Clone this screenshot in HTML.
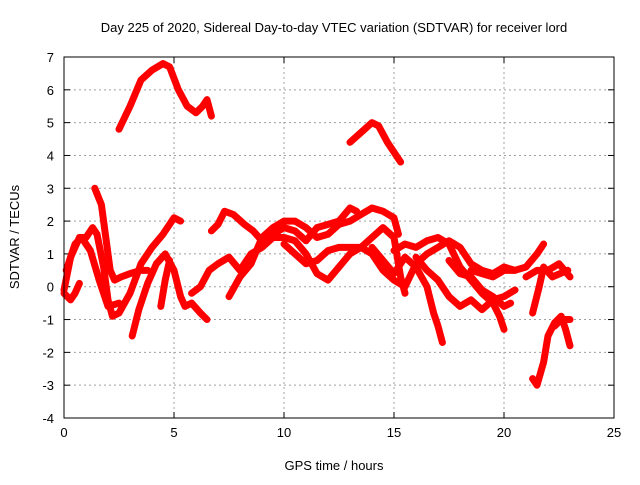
<!DOCTYPE html>
<html><head><meta charset="utf-8"><style>
body{margin:0;background:#fff}
svg text{font-family:"Liberation Sans",sans-serif;font-size:13px;fill:#000}
</style></head><body>
<svg id="chart" width="640" height="480" xmlns="http://www.w3.org/2000/svg">
<rect width="640" height="480" fill="#fff"/>
<text x="334" y="32" text-anchor="middle">Day 225 of 2020, Sidereal Day-to-day VTEC variation (SDTVAR) for receiver lord</text>
<text x="334" y="470" text-anchor="middle">GPS time / hours</text>
<text transform="translate(19,237) rotate(-90)" text-anchor="middle">SDTVAR / TECUs</text>
<g id="grid"></g>
<g id="ticks"></g>
<g id="series"></g>
<rect x="64" y="57" width="550" height="361" fill="none" stroke="#000" stroke-width="1"/>
</svg>
<script>
const xTicks=[0,5,10,15,20,25];
const yTicks=[-4,-3,-2,-1,0,1,2,3,4,5,6,7];
const tracks=[
[[2.5,4.8],[3,5.5],[3.5,6.3],[4,6.6],[4.5,6.8],[4.8,6.7],[5.2,6.0],[5.6,5.5],[6,5.3],[6.3,5.5],[6.5,5.7],[6.7,5.2]],
[[13,4.4],[13.5,4.7],[14,5.0],[14.3,4.9],[14.7,4.4],[15,4.1],[15.3,3.8]],
[[0,-0.1],[0.3,0.9],[0.7,1.5],[1,1.5],[1.3,1.8],[1.5,1.6],[1.8,0.6],[2,-0.4],[2.2,-0.9],[2.5,-0.8],[3,-0.2],[3.5,0.7],[4,1.2],[4.5,1.6],[5,2.1],[5.3,2.0]],
[[0,-0.2],[0.3,-0.4],[0.5,-0.2],[0.7,0.1]],
[[0.1,0.5],[0.5,1.3],[0.8,1.5],[1.2,1.1],[1.6,0.2],[2,-0.6],[2.5,-0.5]],
[[1.4,3.0],[1.7,2.5],[1.9,1.5],[2.1,0.5],[2.3,0.2],[2.6,0.3],[3,0.4],[3.5,0.5],[3.8,0.5]],
[[3.1,-1.5],[3.4,-0.7],[3.8,0.1],[4.2,0.7],[4.6,1.0],[5,0.5],[5.3,-0.3],[5.5,-0.6],[5.8,-0.5],[6.2,-0.8],[6.5,-1.0]],
[[4.4,-0.6],[4.6,0.2],[4.8,0.8]],
[[6.7,1.7],[7,1.9],[7.3,2.3],[7.7,2.2],[8.2,1.9],[8.6,1.7],[9,1.4],[9.5,1.6],[10,1.8],[10.5,1.7],[11,1.4],[11.5,1.8],[12,1.9],[12.5,2.0],[13,2.4],[13.3,2.3]],
[[5.8,-0.2],[6.2,0],[6.6,0.5],[7,0.7],[7.5,0.9],[8,0.5],[8.5,1.0],[9,1.2],[9.5,1.5],[10,1.5],[10.5,1.4],[11,1.0],[11.5,0.4],[12,0.2],[12.5,0.6],[13,1.0],[13.5,1.2],[14,1.5],[14.5,1.8],[15,1.5],[15.3,0.3],[15.5,-0.2]],
[[7.5,-0.3],[8,0.3],[8.5,0.7],[9,1.5],[9.5,1.8],[10,2.0],[10.5,2.0],[11,1.8],[11.5,1.5],[12,1.6],[12.5,1.9],[13,2.0],[13.5,2.2],[14,2.4],[14.5,2.3],[15,2.1],[15.2,1.6]],
[[10,1.3],[10.5,1.0],[11,0.7],[11.5,0.8],[12,1.1],[12.5,1.2],[13,1.2],[13.5,1.2],[14,1.0],[14.5,0.5],[15,0.2],[15.5,0],[16,0.7],[16.5,1.0],[17,1.2],[17.5,1.4],[18,1.2],[18.5,0.7],[19,0.5],[19.5,0.4],[20,0.6],[20.5,0.5],[21,0.6],[21.5,1.0],[21.8,1.3]],
[[14,1.2],[14.5,0.8],[15,0.4],[15.5,0.9],[16,0.6],[16.5,0],[16.8,-0.8],[17,-1.2],[17.2,-1.7]],
[[15,1.1],[15.5,1.3],[16,1.2],[16.5,1.4],[17,1.5],[17.5,1.3],[18,0.6],[18.5,0.2],[19,-0.2],[19.5,-0.5],[19.8,-0.9],[20,-1.3]],
[[16,0.9],[16.5,0.5],[17,0.2],[17.5,-0.3],[18,-0.6],[18.5,-0.4],[19,-0.7],[19.5,-0.4],[20,-0.3],[20.5,-0.1]],
[[17.5,0.8],[18,0.4],[18.5,0.3],[19,-0.1],[19.5,-0.3],[20,-0.6],[20.3,-0.5]],
[[18.5,0.5],[19,0.4],[19.5,0.3],[20,0.5],[20.5,0.5]],
[[21,0.3],[21.5,0.5],[22,0.5],[22.5,0.7],[23,0.3]],
[[21.3,-0.8],[21.6,0],[21.8,0.6],[22.2,0.3],[22.9,0.5]],
[[21.3,-2.8],[21.5,-3.0],[21.8,-2.3],[22,-1.5],[22.3,-1.1],[22.6,-0.9],[22.8,-1.3],[23,-1.8]],
[[22.3,-1.2],[22.6,-1.0],[23,-1.0]]
];
const X0=64,X1=614,Y0=418,Y1=57;
function sx(v){return X0+(v-0)/(25-0)*(X1-X0);}
function sy(v){return Y0-(v+4)/(11)*(Y0-Y1);}
const NS="http://www.w3.org/2000/svg";
const grid=document.getElementById('grid'),ticks=document.getElementById('ticks'),ser=document.getElementById('series');
function mk(t,a,p){const e=document.createElementNS(NS,t);for(const k in a)e.setAttribute(k,a[k]);p.appendChild(e);return e;}
xTicks.forEach(v=>{
 const x=sx(v);
 if(v>0&&v<25){const g=mk('line',{x1:x,x2:x,y1:Y1,y2:Y0,stroke:'#a0a0a0','stroke-dasharray':'2,3'},grid);
 
 }
 mk('line',{x1:x,x2:x,y1:Y0,y2:Y0-6,stroke:'#000'},ticks);
 mk('line',{x1:x,x2:x,y1:Y1,y2:Y1+6,stroke:'#000'},ticks);
 const t=mk('text',{x:x,y:Y0+19,'text-anchor':'middle'},ticks);t.textContent=v;
 
 
});
yTicks.forEach(v=>{
 const y=sy(v);
 if(v>-4&&v<7){const g=mk('line',{x1:X0,x2:X1,y1:y,y2:y,stroke:'#a0a0a0','stroke-dasharray':'2,3'},grid);
 
 }
 mk('line',{x1:X0,x2:X0+6,y1:y,y2:y,stroke:'#000'},ticks);
 mk('line',{x1:X1,x2:X1-6,y1:y,y2:y,stroke:'#000'},ticks);
 const t=mk('text',{x:X0-10,y:y+5,'text-anchor':'end'},ticks);t.textContent=v;
 
 
});
tracks.forEach(tr=>{
 const p=mk('polyline',{points:tr.map(d=>sx(d[0])+','+sy(d[1])).join(' '),fill:'none',stroke:'#ff0000','stroke-width':7,'stroke-linejoin':'round','stroke-linecap':'round'},ser);
 
 
});
</script>
</body></html>
